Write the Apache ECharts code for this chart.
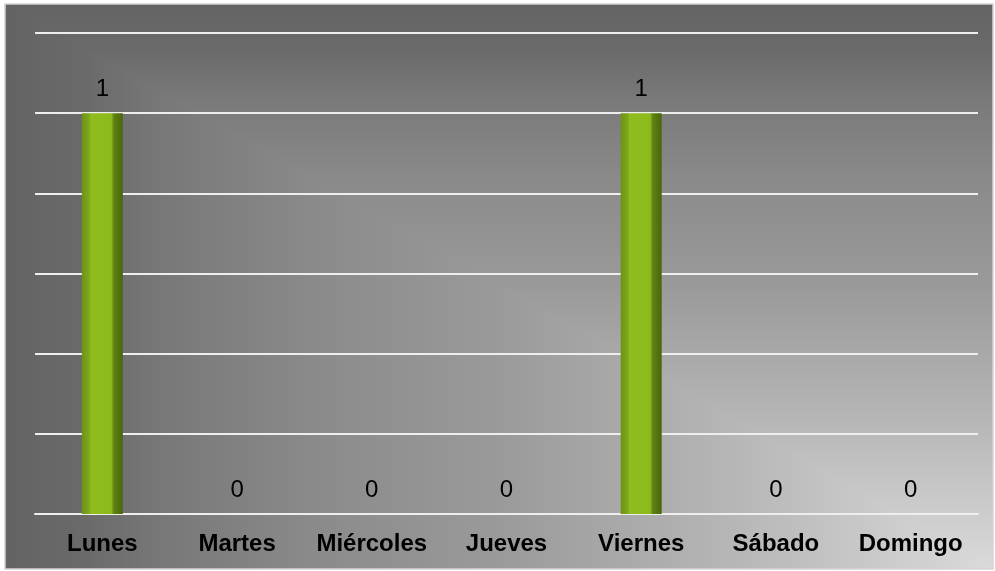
<!DOCTYPE html>
<html>
<head>
<meta charset="utf-8">
<script src="https://cdn.jsdelivr.net/npm/echarts@6/dist/echarts.min.js"></script>
<style>
  html, body { margin: 0; padding: 0; background: #ffffff; }
  #chart { width: 995px; height: 571px; }
</style>
</head>
<body>
<div id="chart"></div>
<script>
const days = ['Lunes', 'Martes', 'Miércoles', 'Jueves', 'Viernes', 'Sábado', 'Domingo'];
const counts = [1, 0, 0, 0, 1, 0, 0];

const chart = echarts.init(document.getElementById('chart'));

// bevelled green bar look
const barColor = {
  type: 'linear', x: 0, y: 0, x2: 1, y2: 0,
  colorStops: [
    { offset: 0, color: '#6e9314' },
    { offset: 0.18, color: '#7fa81a' },
    { offset: 0.22, color: '#8fbd1e' },
    { offset: 0.72, color: '#8cb91c' },
    { offset: 0.78, color: '#5f8211' },
    { offset: 1, color: '#4a660c' }
  ]
};

// background: rectangular "from corner" light, bright at bottom-right.
// full rect with a horizontal ramp, upper-right triangle on top with a vertical ramp
const bgStops = [
  { offset: 0, color: '#636363' },
  { offset: 0.08, color: '#6a6a6a' },
  { offset: 0.16, color: '#787878' },
  { offset: 0.31, color: '#8a8a8a' },
  { offset: 0.5, color: '#9a9a9a' },
  { offset: 0.75, color: '#b8b8b8' },
  { offset: 1, color: '#dadada' }
];
const L = 5, T = 4, R = 993, B = 569;

chart.setOption({
  backgroundColor: '#ffffff',
  animation: false,
  graphic: [
    {
      type: 'rect', z: -11,
      shape: { x: L, y: T, width: R - L, height: B - T },
      style: { fill: { type: 'linear', x: 0, y: 0, x2: 1, y2: 0, colorStops: bgStops } }
    },
    {
      type: 'polygon', z: -10,
      shape: { points: [[L, T], [R, T], [R, B]] },
      style: { fill: { type: 'linear', x: 0, y: 0, x2: 0, y2: 1, colorStops: bgStops } }
    },
    {
      type: 'rect', z: -9,
      shape: { x: L, y: T, width: R - L, height: B - T },
      style: { fill: 'none', stroke: '#d4d4d4', lineWidth: 1.5 }
    }
  ],
  grid: { left: 35, right: 17, top: 33, bottom: 57 },
  xAxis: {
    type: 'category',
    data: days,
    axisTick: { show: false },
    axisLine: { show: true, lineStyle: { color: '#eeeeee', width: 2 } },
    axisLabel: {
      interval: 0,
      color: '#000000',
      fontFamily: 'Liberation Sans, Arial, sans-serif',
      fontWeight: 'bold',
      fontSize: 24,
      margin: 18
    }
  },
  yAxis: {
    type: 'value',
    min: 0,
    max: 1.2,
    interval: 0.2,
    axisLabel: { show: false },
    axisLine: { show: false },
    axisTick: { show: false },
    splitLine: { lineStyle: { color: '#eeeeee', width: 2 } }
  },
  series: [{
    type: 'bar',
    data: counts,
    barWidth: 41,
    itemStyle: { color: barColor },
    label: {
      show: true,
      position: 'top',
      distance: 12,
      color: '#000000',
      fontFamily: 'Liberation Sans, Arial, sans-serif',
      fontSize: 24
    }
  }]
});
</script>
</body>
</html>
